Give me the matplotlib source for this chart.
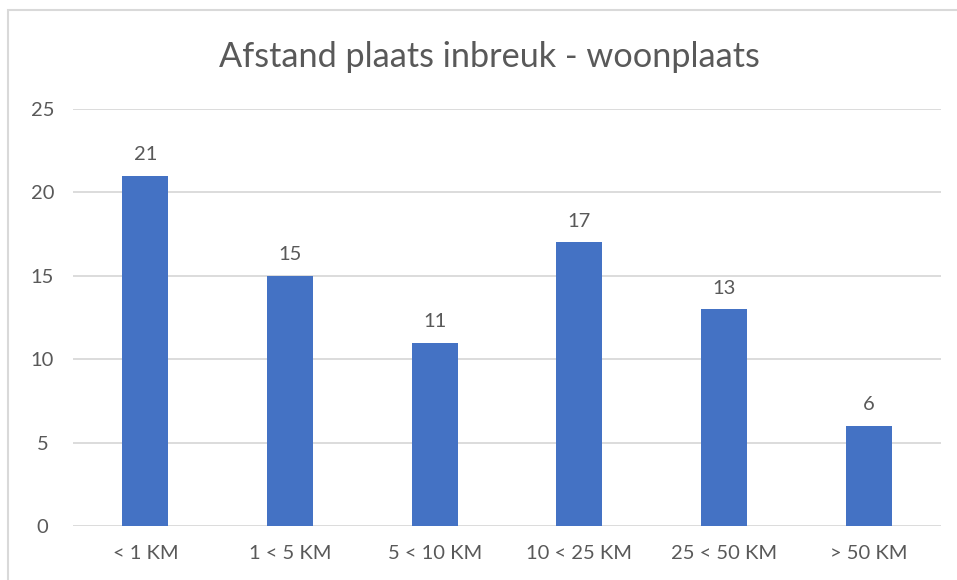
import matplotlib.pyplot as plt
from matplotlib.patches import Rectangle

# Data
categories = ["< 1 KM", "1 < 5 KM", "5 < 10 KM", "10 < 25 KM", "25 < 50 KM", "> 50 KM"]
values = [21, 15, 11, 17, 13, 6]
yticks = [0, 5, 10, 15, 20, 25]

bar_color = "#4472C4"
text_color = "#595959"
grid_color = "#D9D9D9"

plt.rcParams['font.family'] = ['Lato', 'DejaVu Sans']

fig = plt.figure(figsize=(9.57, 5.8), dpi=100)
ax = fig.add_axes([0.0763, 0.0931, 0.907, 0.719])

x = list(range(len(categories)))
bars = ax.bar(x, values, width=0.32, color=bar_color, zorder=3)

for xi, v in zip(x, values):
    ax.annotate(str(v), (xi, v), xytext=(0, 9), textcoords="offset points",
                ha="center", va="bottom", fontsize=14.5, color=text_color)

ax.set_xlim(-0.5, len(categories) - 0.5)
ax.set_ylim(0, 25)
ax.set_yticks(yticks)
ax.set_xticks(x)
ax.set_xticklabels(categories)
ax.tick_params(axis="both", length=0, labelsize=14.5, labelcolor=text_color)
ax.tick_params(axis="y", pad=22)
ax.tick_params(axis="x", pad=14)
for lbl in ax.get_yticklabels():
    lbl.set_horizontalalignment("center")

ax.yaxis.grid(True, color=grid_color, linewidth=1.3, zorder=0)
for s in ax.spines.values():
    s.set_visible(False)

fig.text(0.511, 0.902, "Afstand plaats inbreuk - woonplaats", ha="center", va="center",
         fontsize=24.7, color=text_color)

# chart frame (only left and top edges visible in the crop)
fig.patches.append(Rectangle((8 / 957, -0.1), 1.2, 1 - 10 / 580 + 0.1,
                             transform=fig.transFigure, fill=False,
                             edgecolor=grid_color, linewidth=1.5))

fig.savefig("out.png", dpi=100)
